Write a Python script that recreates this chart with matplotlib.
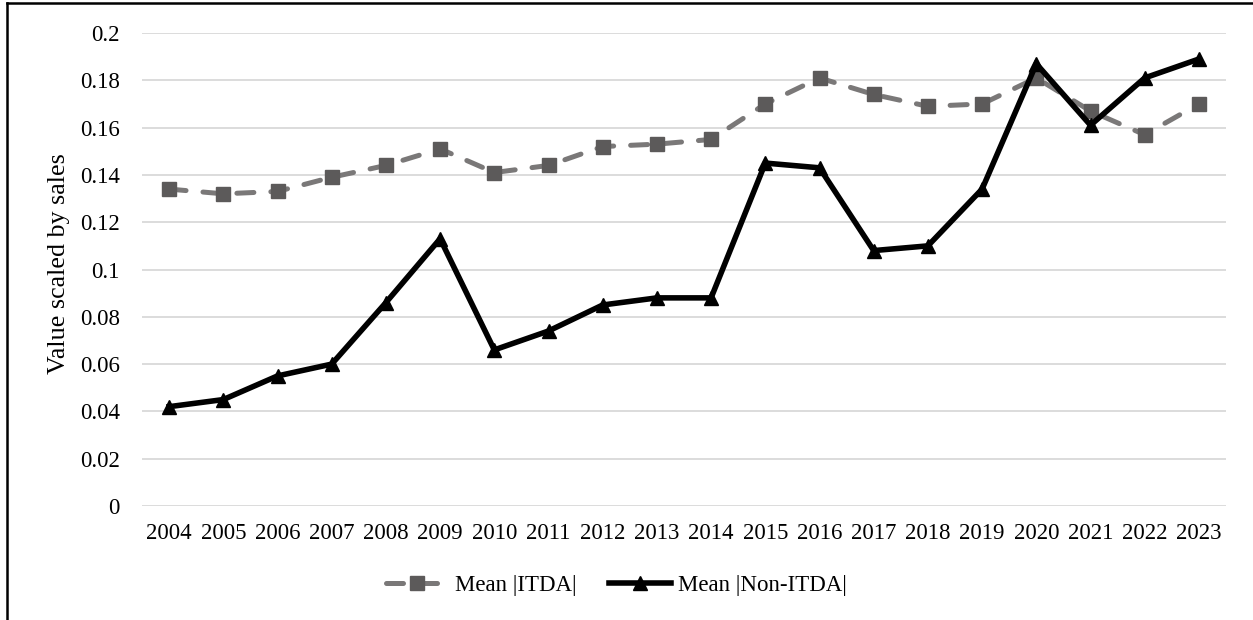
import matplotlib
matplotlib.use("Agg")
import matplotlib.pyplot as plt
from matplotlib.lines import Line2D

years = [str(y) for y in range(2004, 2024)]
mean_itda = [0.134, 0.132, 0.133, 0.139, 0.144, 0.151, 0.141, 0.144, 0.152, 0.153,
             0.155, 0.170, 0.181, 0.174, 0.169, 0.170, 0.181, 0.167, 0.157, 0.170]
mean_non_itda = [0.042, 0.045, 0.055, 0.060, 0.086, 0.113, 0.066, 0.074, 0.085, 0.088,
                 0.088, 0.145, 0.143, 0.108, 0.110, 0.134, 0.187, 0.161, 0.181, 0.189]
y_ticks = [0, 0.02, 0.04, 0.06, 0.08, 0.1, 0.12, 0.14, 0.16, 0.18, 0.2]
y_tick_labels = ["0", "0.02", "0.04", "0.06", "0.08", "0.1", "0.12", "0.14", "0.16", "0.18", "0.2"]

plt.rcParams["font.family"] = ["Liberation Serif", "DejaVu Serif"]
FS = 16.5

fig = plt.figure(figsize=(12.53, 6.2), dpi=100)
ax = fig.add_axes([142 / 1253, 1 - 506 / 620, (1226 - 142) / 1253, (506 - 33) / 620])

x = range(len(years))
ax.plot(x, mean_itda, color="#7a7878", lw=3.6, ls=(0, (3.4, 3.4)),
        dash_capstyle="round", solid_capstyle="round",
        marker="s", markersize=9.5, markerfacecolor="#5c5a5a", markeredgecolor="#5c5a5a",
        label="Mean |ITDA|", zorder=3)
ax.plot(x, mean_non_itda, color="black", lw=4, solid_joinstyle="miter",
        marker="^", markersize=10, markerfacecolor="black", markeredgecolor="black",
        label="Mean |Non-ITDA|", zorder=4)

ax.set_xlim(-0.5, len(years) - 0.5)
ax.set_ylim(0, 0.2)
ax.set_yticks(y_ticks)
ax.set_yticklabels(y_tick_labels)
ax.set_xticks(list(x))
ax.set_xticklabels(years)
ax.tick_params(axis="both", length=0, labelsize=FS, colors="black")
ax.tick_params(axis="y", pad=16)
ax.tick_params(axis="x", pad=12)
ax.yaxis.grid(True, color="#d9d9d9", lw=1.3)
ax.set_axisbelow(True)
for s in ax.spines.values():
    s.set_visible(False)

fig.text(59 / 1253, 1 - 264 / 620, "Value scaled by sales", rotation=90,
         ha="center", va="center", fontsize=18.7)

fig.legend(loc="center", bbox_to_anchor=(0.492, 1 - 585 / 620), ncol=2, frameon=False,
           fontsize=FS, handlelength=2.7, columnspacing=1.4, handletextpad=0.3)

# outer frame (left and top edges)
fig.add_artist(Line2D([6.5 / 1253, 6.5 / 1253], [0, 1 - 3 / 620], color="black", lw=1.8,
                      transform=fig.transFigure))
fig.add_artist(Line2D([6.5 / 1253, 1], [1 - 3 / 620, 1 - 3 / 620], color="black", lw=1.8,
                      transform=fig.transFigure))

fig.savefig("out.png", dpi=100)
